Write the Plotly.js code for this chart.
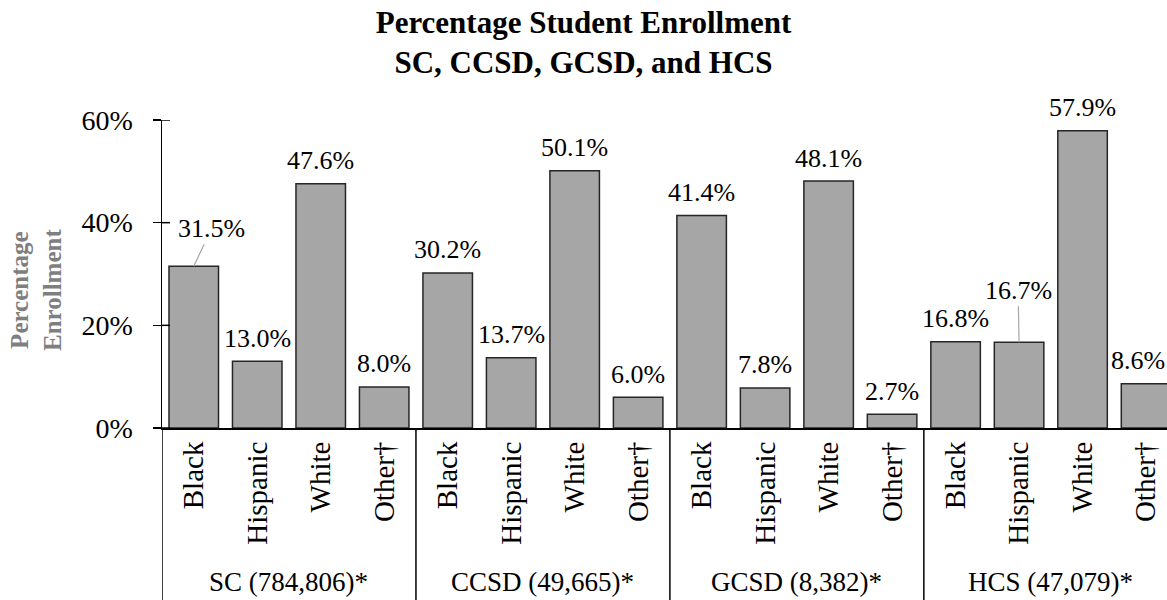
<!DOCTYPE html>
<html>
<head>
<meta charset="utf-8">
<script src="https://cdn.plot.ly/plotly-3.0.1.min.js"></script>
<style>html,body{margin:0;padding:0;background:#fff;}#chart{width:1167px;height:600px;}</style>
</head>
<body>
<div id="chart"></div>
<script>
const groups = ["SC (784,806)*", "CCSD (49,665)*", "GCSD (8,382)*", "HCS (47,079)*"];
const races = ["Black", "Hispanic", "White", "Other†"];
const scValues = [31.5, 13.0, 47.6, 8.0];
const ccsdValues = [30.2, 13.7, 50.1, 6.0];
const gcsdValues = [41.4, 7.8, 48.1, 2.7];
const hcsValues = [16.8, 16.7, 57.9, 8.6];
const yTicks = [0, 20, 40, 60];
const yTickText = ["0%", "20%", "40%", "60%"];

const FONT = "Liberation Serif, Times New Roman, serif";
const allValues = [].concat(scValues, ccsdValues, gcsdValues, hcsValues);
const xs = allValues.map((v, i) => i);
const tickText = xs.map(i => races[i % races.length]);

const trace = {
  type: "bar",
  x: xs,
  y: allValues,
  width: 0.78,
  marker: {color: "#A6A6A6", line: {color: "#262626", width: 1.5}},
  hoverinfo: "skip"
};

// label annotations
const annotations = allValues.map((v, i) => ({
  x: i, y: v, xref: "x", yref: "y",
  text: v.toFixed(1) + "%",
  font: {family: FONT, size: 26, color: "#000"},
  showarrow: false, yanchor: "middle", xanchor: "center", yshift: 23
}));
// leader-line labels
Object.assign(annotations[0], {showarrow: true, arrowhead: 0, arrowwidth: 1.2, arrowcolor: "#A6A6A6", ax: 18, ay: -38, yshift: 0, standoff: 0});
Object.assign(annotations[13], {showarrow: true, arrowhead: 0, arrowwidth: 1.2, arrowcolor: "#A6A6A6", ax: -1, ay: -52, yshift: 0, standoff: 0});
// last label sits at the right edge, keep it inside the picture
Object.assign(annotations[15], {xanchor: "right", xref: "paper", x: 1, xshift: 0});

// group labels
groups.forEach((g, k) => {
  annotations.push({
    x: k * 4 + 1.5, y: 0, xref: "x", yref: "paper",
    text: g, showarrow: false, yanchor: "middle", yshift: -154,
    font: {family: FONT, size: 27, color: "#000"}
  });
});
// y-axis title
annotations.push({
  x: 0, y: 0.5, xref: "paper", yref: "paper", xanchor: "center", yanchor: "middle",
  xshift: -126, yshift: -16,
  text: "<b>Percentage<br>Enrollment</b>", textangle: -90, showarrow: false,
  font: {family: FONT, size: 25, color: "#7F7F7F"}
});

const shapes = [];
// group separators (including left boundary)
for (let k = 0; k <= groups.length - 1; k++) {
  shapes.push({type: "line", xref: "x", yref: "paper", x0: k * 4 - 0.5, x1: k * 4 - 0.5, y0: 0, y1: -0.6,
    line: {color: "#000", width: 1.5}});
}
// inside half of the crossing y ticks
yTicks.forEach(t => {
  shapes.push({type: "line", xref: "paper", yref: "y", x0: 0, x1: 0.008, y0: t, y1: t,
    line: {color: "#000", width: 1.5}});
});

const layout = {
  width: 1167, height: 600,
  margin: {l: 162, r: 0, t: 120, b: 172},
  paper_bgcolor: "#fff", plot_bgcolor: "#fff",
  showlegend: false,
  title: {
    text: "<b>Percentage Student Enrollment<br>SC, CCSD, GCSD, and HCS</b>",
    font: {family: FONT, size: 31, color: "#000"},
    x: 0.5, xref: "container", xanchor: "center",
    y: 0.945, yref: "container", yanchor: "middle"
  },
  xaxis: {
    range: [-0.5, 15.33], tickmode: "array", tickvals: xs, ticktext: tickText,
    tickangle: -90, ticks: "", showline: true, linecolor: "#000", linewidth: 2,
    showgrid: false, zeroline: false, fixedrange: true,
    tickfont: {family: FONT, size: 29, color: "#000"}
  },
  yaxis: {
    range: [0, 60], tickmode: "array", tickvals: yTicks, ticktext: yTickText,
    ticks: "outside", ticklen: 8, tickwidth: 1.5, tickcolor: "#000",
    showline: true, linecolor: "#000", linewidth: 1.5,
    showgrid: false, zeroline: false, fixedrange: true, ticklabelstandoff: 14,
    tickfont: {family: FONT, size: 28, color: "#000"}
  },
  annotations: annotations,
  shapes: shapes
};

Plotly.newPlot("chart", [trace], layout, {displayModeBar: false, staticPlot: true});
</script>
</body>
</html>
